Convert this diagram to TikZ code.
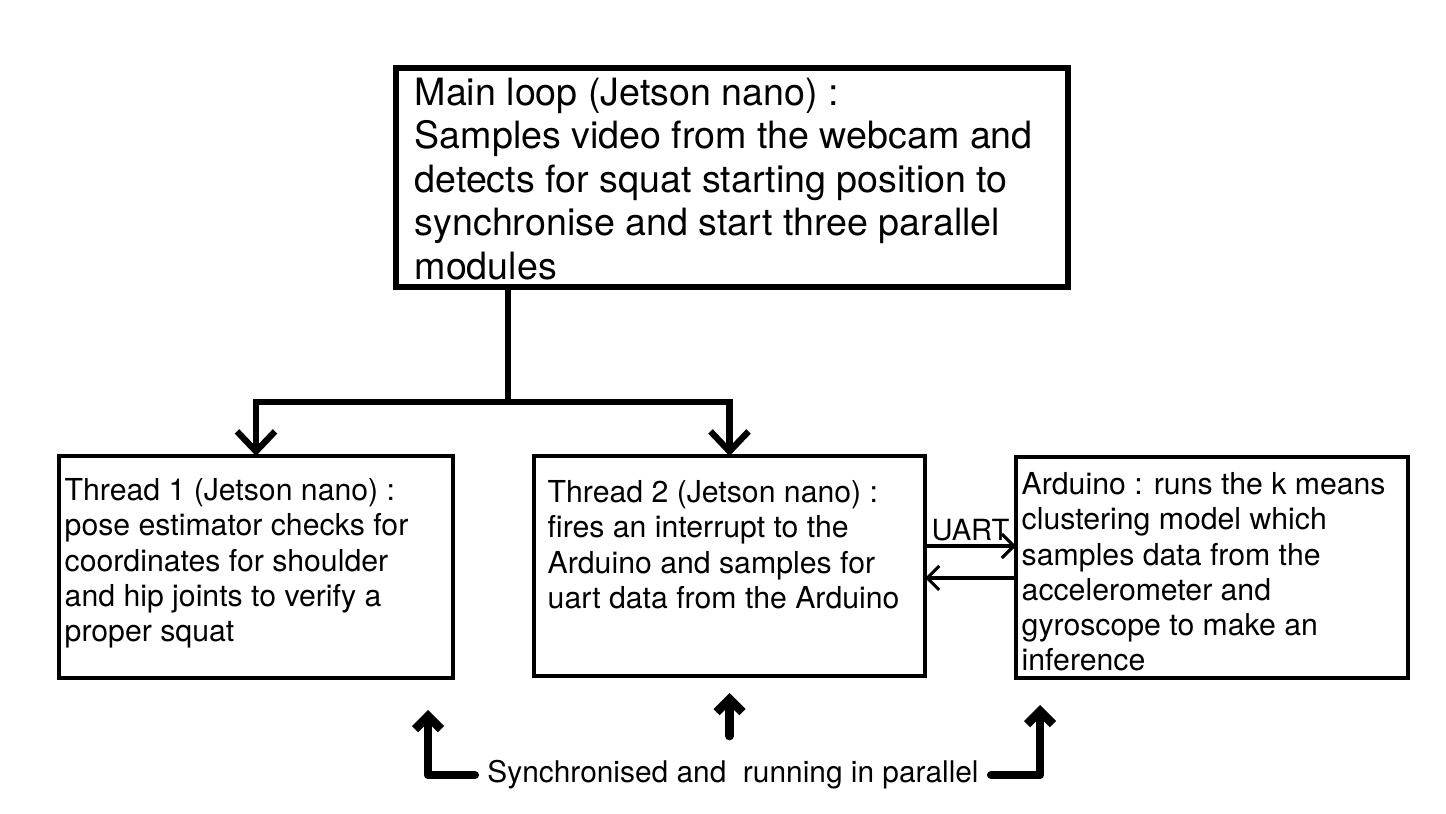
\documentclass[tikz,border=0pt]{standalone}
\usepackage{fontspec}
\setmainfont{TeX Gyre Heros}
\usetikzlibrary{arrows.meta,calc}

\tikzset{
	box/.style={draw, line width=0.9pt, inner sep=0pt, outer sep=0pt},
	mainbox/.style={draw, line width=1.8pt, inner sep=0pt, outer sep=0pt},
	bigtext/.style={inner sep=0pt, anchor=north west, align=left, font=\fontsize{10.7}{12.4}\selectfont},
	smalltext/.style={inner sep=0pt, anchor=north west, align=left, font=\fontsize{8.6}{10}\selectfont},
	bus/.style={line width=1.8pt, -{Straight Barb[length=2mm,width=3.8mm]}},
	uart/.style={line width=0.9pt, -{Straight Barb[length=1.2mm,width=2.4mm]}},
	sync/.style={line width=2.5pt, line cap=round, line join=round, -{Straight Barb[length=1.3mm,width=2.6mm]}}
}

\begin{document}
\begin{tikzpicture}
			%%%%% START %%%%%
			\useasboundingbox (0,0) rectangle (14.46,8.14);
			
			\node[mainbox, minimum width=6.72cm, minimum height=2.19cm] (m) at (7.32, 6.365) {};
			\node[bigtext] (mtxt) at ([shift={(0.18,-0.09)}]m.north west) {Main loop (Jetson nano) :\\Samples video from the webcam and\\detects for squat starting position to\\synchronise and start three parallel\\modules};
			
			\node[box, minimum width=3.94cm, minimum height=2.22cm] (t1) at (2.56, 2.47) {};
			\node[smalltext] (t1txt) at ([shift={(0.05,-0.22)}]t1.north west) {Thread 1 (Jetson nano) :\\pose estimator checks for\\coordinates for shoulder\\and hip joints to verify a\\proper squat};
			
			\node[box, minimum width=3.91cm, minimum height=2.2cm] (t2) at (7.295, 2.48) {};
			\node[smalltext] (t2txt) at ([shift={(0.13,-0.24)}]t2.north west) {Thread 2 (Jetson nano) :\\fires an interrupt to the\\Arduino and samples for\\uart data from the Arduino};
			
			\node[box, minimum width=3.92cm, minimum height=2.21cm] (ard) at (12.12, 2.465) {};
			\node[smalltext] (ardtxt) at ([shift={(0.05,-0.15)}]ard.north west) {Arduino : runs the k means\\clustering model which\\samples data from the\\accelerometer and\\gyroscope to make an\\inference};
			
			% main loop to the two threads
			\coordinate (fork) at ($(m.south)+(-2.24,-1.15)$);
			\draw[line width=1.8pt] (fork |- m.south) -- (fork);
			\draw[bus] (fork) -| (t1.north);
			\draw[bus] (fork) -| (t2.north);
			
			% uart link
			\draw[uart] ([yshift=2mm]t2.east) -- ([yshift=2mm]t2.east -| ard.west) node[midway, above, inner sep=1pt, font=\fontsize{8.3}{9}\selectfont] (uartlbl) {UART};
			\draw[uart] ([yshift=-1.2mm]t2.east -| ard.west) -- ([yshift=-1.2mm]t2.east);
			
			% synchronised
			\node[inner sep=1.2mm, font=\fontsize{8.5}{10}\selectfont] (syn) at (7.33, 0.39) {Synchronised and\ \ running in parallel};
			\coordinate (t2tail) at ([yshift=-0.6cm]t2.south);
			\draw[sync] (syn.west) -| ([shift={(-0.25,-0.32)}]t1.south east);
			\draw[sync] (t2tail) -- ([yshift=-0.17cm]t2.south);
			\draw[sync] (syn.east) -| ([shift={(0.24,-0.27)}]ard.south west);
			
			%%%%% END %%%%%
\end{tikzpicture}
\end{document}
